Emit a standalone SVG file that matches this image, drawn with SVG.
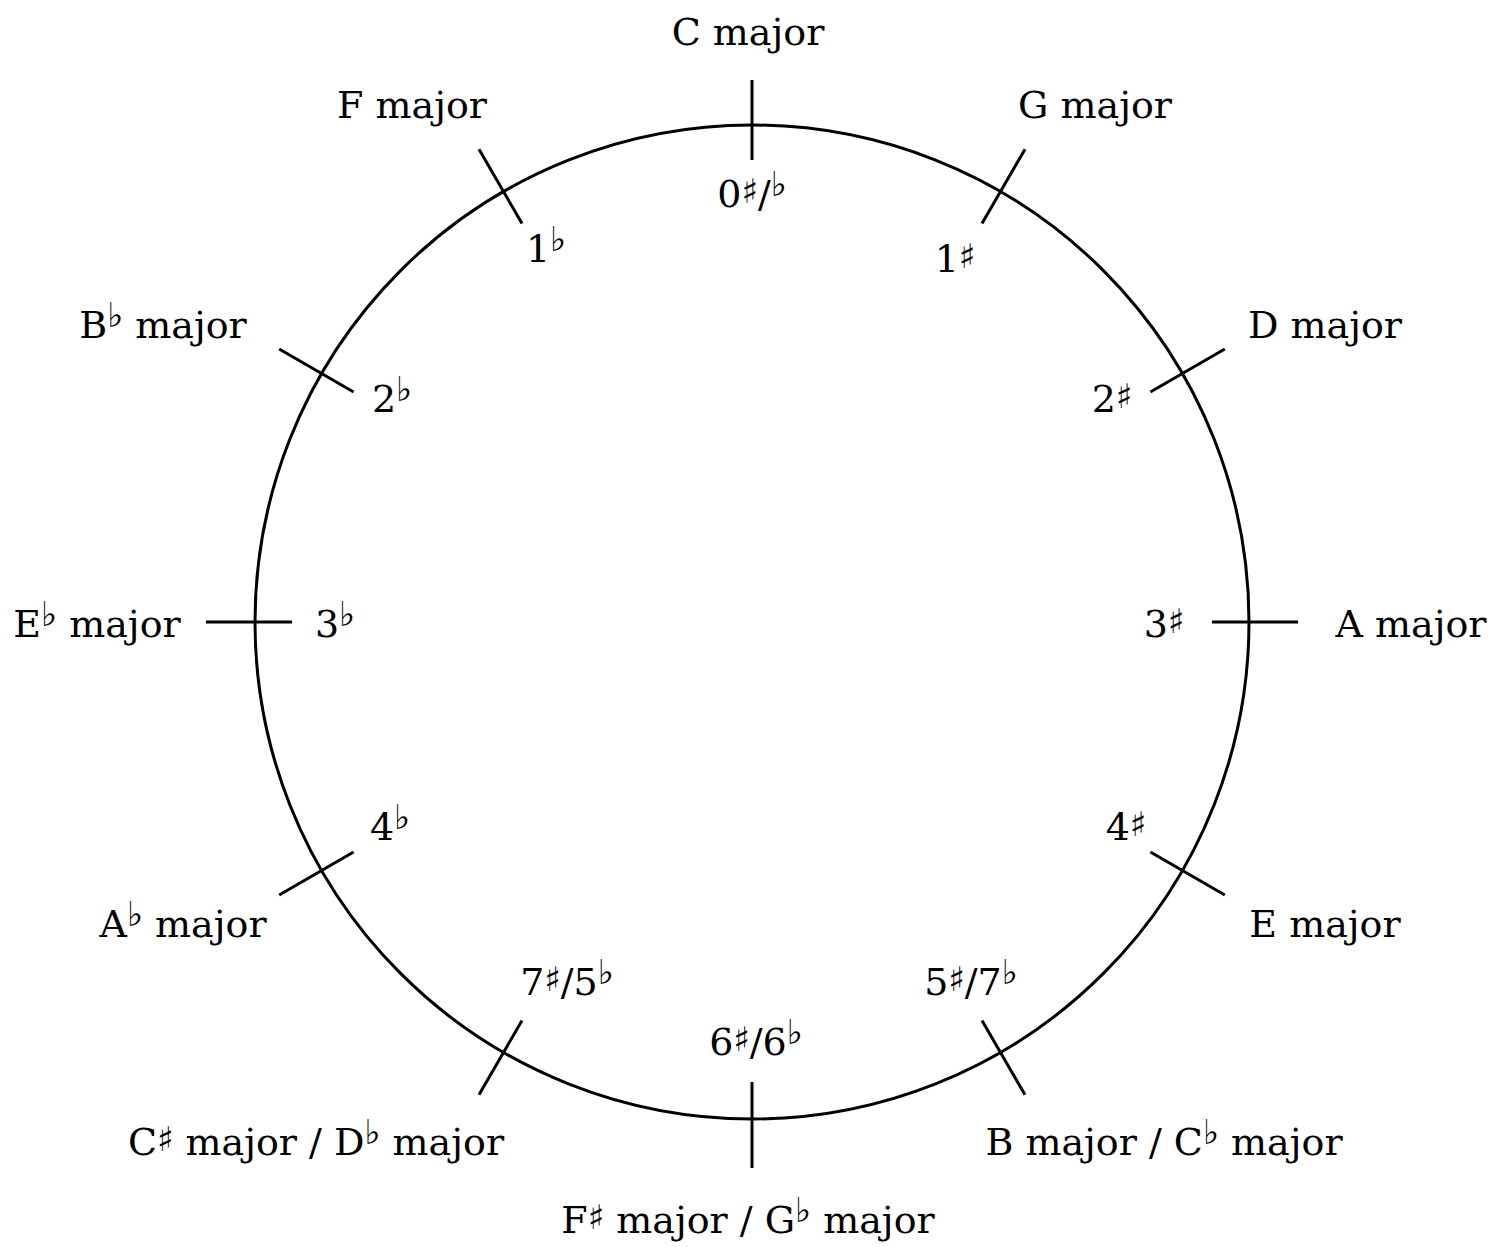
<svg xmlns="http://www.w3.org/2000/svg" width="1499" height="1247" viewBox="0 0 1499 1247">
<style>
text{font-family:"DejaVu Serif","Liberation Serif",serif;font-size:38px;fill:#000;text-anchor:middle}
.sh{font-family:"Noto Sans","DejaVu Sans",sans-serif;font-size:34px}
.fl{font-family:"Noto Sans","DejaVu Sans",sans-serif;font-size:34px}
line,circle{stroke:#000;stroke-width:3;fill:none}
</style>
<rect width="1499" height="1247" fill="#fff"/>
<g id="connectors">
<circle cx="752" cy="622" r="497"/>
<line x1="752" y1="160" x2="752" y2="80"/>
<line x1="982" y1="223.6" x2="1025" y2="149.2"/>
<line x1="1150.4" y1="392" x2="1224.8" y2="349"/>
<line x1="1212" y1="622" x2="1298" y2="622"/>
<line x1="1150.4" y1="852" x2="1224.8" y2="895"/>
<line x1="982" y1="1020.4" x2="1025" y2="1094.8"/>
<line x1="752" y1="1082" x2="752" y2="1168"/>
<line x1="522" y1="1020.4" x2="479" y2="1094.8"/>
<line x1="353.6" y1="852" x2="279.2" y2="895"/>
<line x1="292" y1="622" x2="206" y2="622"/>
<line x1="353.6" y1="392" x2="279.2" y2="349"/>
<line x1="522" y1="223.6" x2="479" y2="149.2"/>
</g>
<g id="c"><text x="748" y="45">C major</text><text x="752" y="207">0<tspan class="sh" dy="-4">♯</tspan><tspan dy="4">/</tspan><tspan class="fl" dy="-11">♭</tspan></text></g>
<g id="g"><text x="1095" y="118">G major</text><text x="955" y="272">1<tspan class="sh" dy="-4">♯</tspan></text></g>
<g id="d"><text x="1325" y="338">D major</text><text x="1112" y="412">2<tspan class="sh" dy="-4">♯</tspan></text></g>
<g id="a"><text x="1411" y="637">A major</text><text x="1164" y="637">3<tspan class="sh" dy="-4">♯</tspan></text></g>
<g id="e"><text x="1325" y="937">E major</text><text x="1126" y="840">4<tspan class="sh" dy="-4">♯</tspan></text></g>
<g id="b"><text x="1164" y="1155">B major / C<tspan class="fl" dy="-11">♭</tspan><tspan dy="11"> major</tspan></text><text x="971" y="995">5<tspan class="sh" dy="-4">♯</tspan><tspan dy="4">/7</tspan><tspan class="fl" dy="-11">♭</tspan></text></g>
<g id="fs"><text x="748" y="1233">F<tspan class="sh" dy="-4">♯</tspan><tspan dy="4"> major / G</tspan><tspan class="fl" dy="-11">♭</tspan><tspan dy="11"> major</tspan></text><text x="756" y="1055">6<tspan class="sh" dy="-4">♯</tspan><tspan dy="4">/6</tspan><tspan class="fl" dy="-11">♭</tspan></text></g>
<g id="cs"><text x="316" y="1155">C<tspan class="sh" dy="-4">♯</tspan><tspan dy="4"> major / D</tspan><tspan class="fl" dy="-11">♭</tspan><tspan dy="11"> major</tspan></text><text x="567" y="995">7<tspan class="sh" dy="-4">♯</tspan><tspan dy="4">/5</tspan><tspan class="fl" dy="-11">♭</tspan></text></g>
<g id="ab"><text x="183" y="937">A<tspan class="fl" dy="-11">♭</tspan><tspan dy="11"> major</tspan></text><text x="390" y="840">4<tspan class="fl" dy="-11">♭</tspan></text></g>
<g id="eb"><text x="97" y="637">E<tspan class="fl" dy="-11">♭</tspan><tspan dy="11"> major</tspan></text><text x="335" y="637">3<tspan class="fl" dy="-11">♭</tspan></text></g>
<g id="bb"><text x="163" y="338">B<tspan class="fl" dy="-11">♭</tspan><tspan dy="11"> major</tspan></text><text x="392" y="412">2<tspan class="fl" dy="-11">♭</tspan></text></g>
<g id="f"><text x="412" y="118">F major</text><text x="546" y="262">1<tspan class="fl" dy="-11">♭</tspan></text></g>
</svg>
